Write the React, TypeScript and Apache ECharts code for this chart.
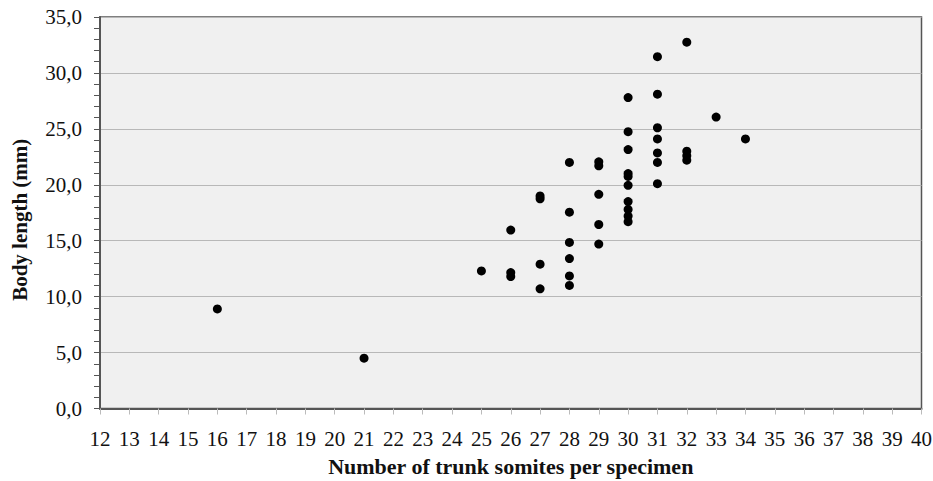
import React, { useEffect, useRef } from "react";
import * as echarts from "echarts";

const somites16 = [8.9];
const somites21 = [4.5];
const somites25 = [12.3];
const somites26 = [15.95, 12.15, 11.8];
const somites27 = [19.0, 18.75, 12.9, 10.7];
const somites28 = [22.0, 17.55, 14.85, 13.4, 11.85, 11.0];
const somites29 = [22.05, 21.7, 19.15, 16.45, 14.7];
const somites30 = [27.8, 24.75, 23.15, 21.0, 20.75, 19.95, 18.5, 17.8, 17.2, 16.7];
const somites31 = [31.45, 28.1, 25.1, 24.1, 22.85, 22.0, 20.1];
const somites32 = [32.75, 23.0, 22.6, 22.2];
const somites33 = [26.05];
const somites34 = [24.1];

const groups: [number, number[]][] = [
  [16, somites16],
  [21, somites21],
  [25, somites25],
  [26, somites26],
  [27, somites27],
  [28, somites28],
  [29, somites29],
  [30, somites30],
  [31, somites31],
  [32, somites32],
  [33, somites33],
  [34, somites34],
];

const X_MIN = 12;
const X_MAX = 40;
const Y_MIN = 0;
const Y_MAX = 35;

export default function App() {
  const ref = useRef<HTMLDivElement>(null);
  useEffect(() => {
    if (!ref.current) return;
    const chart = echarts.init(ref.current, undefined, { renderer: "svg" });
    const data: number[][] = [];
    groups.forEach(([x, ys]) => ys.forEach((y) => data.push([x, y])));
    const font = "Liberation Serif";
    chart.setOption({
      animation: false,
      backgroundColor: "#ffffff",
      textStyle: { fontFamily: font },
      grid: {
        left: 100,
        top: 17,
        right: 11.5,
        bottom: 72.5,
        show: true,
        backgroundColor: "#f0f0f0",
        borderColor: "#555555",
        borderWidth: 1.5,
        containLabel: false,
        outerBoundsMode: "none",
      },
      xAxis: {
        type: "value",
        min: X_MIN,
        max: X_MAX,
        interval: 1,
        name: "Number of trunk somites per specimen",
        nameLocation: "middle",
        nameGap: 47,
        nameTextStyle: { fontFamily: font, fontWeight: "bold", fontSize: 22, color: "#111" },
        axisLine: { show: true, onZero: false, lineStyle: { color: "#555555", width: 2 } },
        axisTick: { show: true, length: 6, lineStyle: { color: "#bbbbbb", width: 1 } },
        axisLabel: { fontFamily: font, fontSize: 21, color: "#111", margin: 20 },
        splitLine: { show: false },
      },
      yAxis: {
        type: "value",
        min: Y_MIN,
        max: Y_MAX,
        interval: 5,
        name: "Body length (mm)",
        nameLocation: "middle",
        nameGap: 70,
        nameTextStyle: {
          fontFamily: font,
          fontWeight: "bold",
          fontSize: 21,
          color: "#111",
          padding: [0, 14, 0, 0],
        },
        axisLine: { show: true, lineStyle: { color: "#555555", width: 2 } },
        axisTick: { show: true, length: 6, lineStyle: { color: "#555555", width: 1 } },
        minorTick: { show: true, splitNumber: 5, length: 6, lineStyle: { color: "#555555", width: 1 } },
        axisLabel: {
          fontFamily: font,
          fontSize: 21,
          color: "#111",
          margin: 18,
          formatter: (v: number) => v.toFixed(1).replace(".", ","),
        },
        splitLine: { show: true, lineStyle: { color: "#b8b8b8", width: 1 } },
      },
      series: [
        {
          type: "scatter",
          data,
          symbol: "circle",
          symbolSize: 9,
          itemStyle: { color: "#000000", opacity: 1 },
        },
      ],
    });
    return () => chart.dispose();
  }, []);
  return <div ref={ref} style={{ width: 933, height: 481, position: "absolute", left: 0, top: 0 }} />;
}
